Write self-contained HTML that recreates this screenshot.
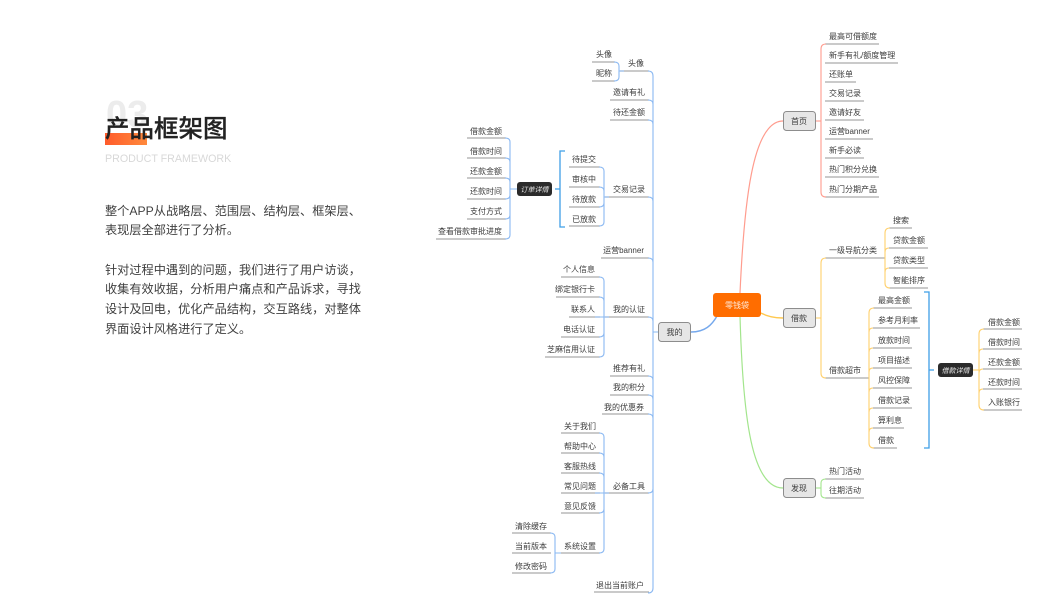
<!DOCTYPE html>
<html lang="zh">
<head>
<meta charset="utf-8">
<title>产品框架图</title>
<style>
html,body{margin:0;padding:0;background:#fff}
svg{display:block;filter:blur(.3px)}
text{font-family:"Liberation Sans","Noto Sans CJK SC",sans-serif}
.t text{font-size:8px;fill:#3c3c3c}
.e text{text-anchor:end}
.u path{stroke:#aaa;stroke-width:1.2;fill:none}
.r path{stroke:#ff9c8e;stroke-width:1.1;fill:none}
.y path{stroke:#ffd06c;stroke-width:1.1;fill:none}
.g path{stroke:#a3e58d;stroke-width:1.1;fill:none}
.b path{stroke:#8ab8f2;stroke-width:1.1;fill:none}
.k path{stroke:#3f9fe6;stroke-width:1.3;fill:none}
.body text{font-size:12.2px;fill:#3f3f3f}
</style>
</head>
<body>
<svg width="1063" height="600" viewBox="0 0 1063 600" xmlns="http://www.w3.org/2000/svg">
<defs><linearGradient id="og" x1="0" x2="1"><stop offset="0" stop-color="#ff5b2b"/><stop offset="1" stop-color="#ff8a3d"/></linearGradient></defs>
<rect width="1063" height="600" fill="#fff"/>

<!-- left copy -->
<text x="106" y="127" font-size="38" font-weight="700" fill="#ececec">03</text>
<rect x="105" y="133" width="42" height="12" fill="url(#og)"/>
<text x="105" y="137" font-size="24.5" font-weight="500" fill="#222" stroke="#222" stroke-width=".25">产品框架图</text>
<text x="105" y="162" font-size="10.7" fill="#d8d8d8">PRODUCT FRAMEWORK</text>
<g class="body">
<text x="105" y="215">整个APP从战略层、范围层、结构层、框架层、</text>
<text x="105" y="234">表现层全部进行了分析。</text>
<text x="105" y="274">针对过程中遇到的问题，我们进行了用户访谈，</text>
<text x="105" y="293">收集有效收据，分析用户痛点和产品诉求，寻找</text>
<text x="105" y="313">设计及回电，优化产品结构，交互路线，对整体</text>
<text x="105" y="333">界面设计风格进行了定义。</text>
</g>

<!-- gray underlines -->
<g class="u">
<path d="M825 44H879M825 63H898M825 82H856M825 101H864M825 120H864M825 139H873M825 158H864M825 177H879M825 197H879"/>
<path d="M825 258H885M825 378H869"/>
<path d="M889 228H912M889 248H928M889 268H928M889 288H928"/>
<path d="M873 308H912M873 328H920M873 348H912M873 368H912M873 388H912M873 408H912M873 428H904M873 448H897"/>
<path d="M983 329H1022M983 349H1022M983 369H1022M983 389H1022M983 410H1022"/>
<path d="M825 479H864M825 498H864"/>
<path d="M620 71H649M610 100H649M610 120H649M605 197H649M601 258H649M605 317H649M610 376H649M610 395H649M602 414H649M605 493H649M594 592H649"/>
<path d="M592 62H615M592 81H615"/>
<path d="M569 167H600M569 187H600M569 207H600M569 226H600"/>
<path d="M467 138H506M467 158H506M467 178H506M467 199H506M467 219H506M436 239H506"/>
<path d="M561 277H600M556 297H600M569 317H600M561 337H600M545 357H600"/>
<path d="M561 433H600M561 453H600M561 473H600M561 493H600M561 513H600M561 553H600"/>
<path d="M512 533H551M512 553H551M512 573H551"/>
</g>

<!-- main curves -->
<path d="M740 293C744 205 752 121 783 121" fill="none" stroke="#ff9c8e" stroke-width="1.2"/>
<path d="M761 313C768 317 775 318 783 318" fill="none" stroke="#ffc94f" stroke-width="1.4"/>
<path d="M740 316C743 420 752 488 783 488" fill="none" stroke="#a3e58d" stroke-width="1.2"/>
<path d="M691 332C705 332 712 325 717 316" fill="none" stroke="#75a8ec" stroke-width="1.4"/>

<!-- right spines -->
<g class="r">
<path d="M826 44Q821 44 821 49V192Q821 197 826 197"/>
<path d="M815 121H821"/>
</g>
<g class="y">
<path d="M815 318H821"/>
<path d="M826 258Q821 258 821 263V373Q821 378 826 378"/>
<path d="M890 228Q885 228 885 233V283Q885 288 890 288"/>
<path d="M874 308Q869 308 869 313V443Q869 448 874 448"/>
<path d="M873 328Q869 328 869 332M873 348Q869 348 869 352M873 368Q869 368 869 372M873 388Q869 388 869 392M873 408Q869 408 869 412M873 428Q869 428 869 432"/>
<path d="M889 248Q885 248 885 252M889 268Q885 268 885 272"/>
<path d="M973 370H979"/>
<path d="M984 329Q979 329 979 334V405Q979 410 984 410"/>
<path d="M983 349Q979 349 979 353M983 369Q979 369 979 373M983 389Q979 389 979 393"/>
</g>
<g class="g">
<path d="M815 488H821"/>
<path d="M826 479Q821 479 821 483V494Q821 498 826 498"/>
</g>
<g class="k">
<path d="M924 292H929V448H924M929 370H934"/>
<path d="M565 151H560V227H565M560 189H555"/>
</g>

<!-- left spines -->
<g class="b">
<path d="M648 71Q653 71 653 76V588Q653 593 648 593"/>
<path d="M648 100Q653 100 653 104M648 120Q653 120 653 124M648 197Q653 197 653 201M648 258Q653 258 653 262M648 317Q653 317 653 321M648 376Q653 376 653 380M648 395Q653 395 653 399M648 414Q653 414 653 418M648 493Q653 493 653 489M653 332H658"/>
<path d="M614 62Q619 62 619 66V77Q619 81 614 81M619 71H624"/>
<path d="M599 167Q604 167 604 171V222Q604 226 599 226M599 187Q604 187 604 191M599 207Q604 207 604 203M604 197H609"/>
<path d="M505 138Q510 138 510 142V235Q510 239 505 239M505 158Q510 158 510 162M505 178Q510 178 510 182M505 199Q510 199 510 195M505 219Q510 219 510 215M510 189H517"/>
<path d="M599 277Q604 277 604 281V353Q604 357 599 357M599 297Q604 297 604 301M599 337Q604 337 604 333M595 317H609"/>
<path d="M599 433Q604 433 604 437V549Q604 553 599 553M599 453Q604 453 604 457M599 473Q604 473 604 477M599 513Q604 513 604 509M595 493H609"/>
<path d="M550 533Q555 533 555 537V569Q555 573 550 573M555 553H561"/>
</g>

<!-- nodes -->
<rect x="713" y="293" width="48" height="24" rx="3" fill="#ff6d00"/>
<text x="737" y="308" font-size="8" fill="#ffe9d8" text-anchor="middle">零钱袋</text>
<g fill="#e6e6e6" stroke="#8d8d8d" stroke-width="1">
<rect x="783.5" y="111.5" width="32" height="19" rx="3"/>
<rect x="783.5" y="308.5" width="32" height="19" rx="3"/>
<rect x="783.5" y="478.5" width="32" height="19" rx="3"/>
<rect x="658.5" y="322.5" width="32" height="19" rx="3"/>
</g>
<g font-size="8" fill="#3c3c3c" text-anchor="middle">
<text x="799" y="124">首页</text>
<text x="799" y="321">借款</text>
<text x="799" y="491">发现</text>
<text x="674.5" y="335">我的</text>
</g>
<rect x="517" y="182" width="35" height="14" rx="3" fill="#2b2b2b"/>
<rect x="938" y="363" width="35" height="14" rx="3" fill="#2b2b2b"/>
<text x="534.5" y="192" font-size="7" font-style="italic" fill="#e8e8e8" text-anchor="middle">订单详情</text>
<text x="955.5" y="373" font-size="7" font-style="italic" fill="#e8e8e8" text-anchor="middle">借款详情</text>

<!-- right labels -->
<g class="t">
<text x="829" y="39">最高可借额度</text>
<text x="829" y="58">新手有礼/额度管理</text>
<text x="829" y="77">还账单</text>
<text x="829" y="96">交易记录</text>
<text x="829" y="115">邀请好友</text>
<text x="829" y="134">运营banner</text>
<text x="829" y="153">新手必读</text>
<text x="829" y="172">热门积分兑换</text>
<text x="829" y="192">热门分期产品</text>
<text x="829" y="253">一级导航分类</text>
<text x="829" y="373">借款超市</text>
<text x="893" y="223">搜索</text>
<text x="893" y="243">贷款金额</text>
<text x="893" y="263">贷款类型</text>
<text x="893" y="283">智能排序</text>
<text x="878" y="303">最高金额</text>
<text x="878" y="323">参考月利率</text>
<text x="878" y="343">放款时间</text>
<text x="878" y="363">项目描述</text>
<text x="878" y="383">风控保障</text>
<text x="878" y="403">借款记录</text>
<text x="878" y="423">算利息</text>
<text x="878" y="443">借款</text>
<text x="988" y="325">借款金额</text>
<text x="988" y="345">借款时间</text>
<text x="988" y="365">还款金额</text>
<text x="988" y="385">还款时间</text>
<text x="988" y="405">入账银行</text>
<text x="829" y="474">热门活动</text>
<text x="829" y="493">往期活动</text>
</g>

<!-- left labels -->
<g class="t e">
<text x="644" y="66">头像</text>
<text x="645" y="95">邀请有礼</text>
<text x="645" y="115">待还金额</text>
<text x="645" y="192">交易记录</text>
<text x="644" y="253">运营banner</text>
<text x="645" y="312">我的认证</text>
<text x="645" y="371">推荐有礼</text>
<text x="645" y="390">我的积分</text>
<text x="644" y="410">我的优惠券</text>
<text x="645" y="489">必备工具</text>
<text x="644" y="588">退出当前账户</text>
<text x="612" y="57">头像</text>
<text x="612" y="76">昵称</text>
<text x="596" y="162">待提交</text>
<text x="596" y="182">审核中</text>
<text x="596" y="202">待放款</text>
<text x="596" y="222">已放款</text>
<text x="502" y="134">借款金额</text>
<text x="502" y="154">借款时间</text>
<text x="502" y="174">还款金额</text>
<text x="502" y="194">还款时间</text>
<text x="502" y="214">支付方式</text>
<text x="502" y="234">查看借款审批进度</text>
<text x="595" y="272">个人信息</text>
<text x="595" y="292">绑定银行卡</text>
<text x="595" y="312">联系人</text>
<text x="595" y="332">电话认证</text>
<text x="595" y="352">芝麻信用认证</text>
<text x="596" y="429">关于我们</text>
<text x="596" y="449">帮助中心</text>
<text x="596" y="469">客服热线</text>
<text x="596" y="489">常见问题</text>
<text x="596" y="509">意见反馈</text>
<text x="596" y="549">系统设置</text>
<text x="547" y="529">清除缓存</text>
<text x="547" y="549">当前版本</text>
<text x="547" y="569">修改密码</text>
</g>
</svg>
</body>
</html>
